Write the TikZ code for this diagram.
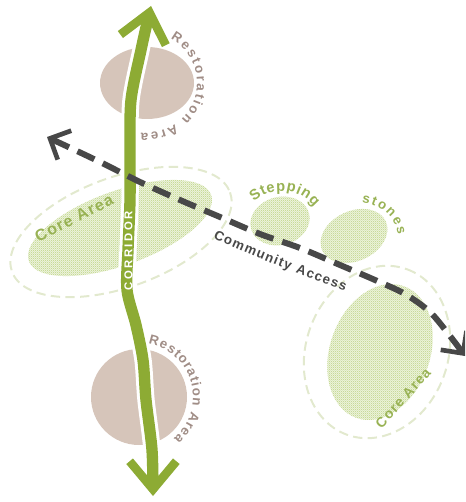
\documentclass[tikz,border=0pt]{standalone}
\usepackage{fontspec}
\setmainfont{Liberation Sans}
\usetikzlibrary{arrows.meta,patterns.meta,decorations.text}

\definecolor{corridorgreen}{RGB}{141,171,52}
\definecolor{restoretan}{RGB}{214,197,186}
\definecolor{restoretext}{RGB}{160,141,134}
\definecolor{patchgreen}{RGB}{200,219,152}
\definecolor{patchbase}{RGB}{238,244,222}
\definecolor{corelabel}{RGB}{152,178,84}
\definecolor{haloline}{RGB}{226,233,206}
\definecolor{accessgray}{RGB}{72,72,72}

\pgfdeclarepattern{
  name=finechecker,
  type=uncolored,
  bottom left={\pgfpoint{0pt}{0pt}},
  top right={\pgfpoint{1.6pt}{1.6pt}},
  tile size={\pgfpoint{1.6pt}{1.6pt}},
  code={
    \pgfpathrectangle{\pgfpointorigin}{\pgfpoint{0.8pt}{0.8pt}}
    \pgfpathrectangle{\pgfpoint{0.8pt}{0.8pt}}{\pgfpoint{0.8pt}{0.8pt}}
    \pgfusepath{fill}
  }
}

\tikzset{
  restoration/.style={fill=restoretan},
  habitat/.style={fill=patchbase, postaction={pattern=finechecker, pattern color=patchgreen}},
  buffer/.style={draw=haloline, line width=1.5pt, dash pattern=on 7pt off 4pt},
  corridor/.style={draw=corridorgreen, line width=8.5pt,
    {Straight Barb[length=21pt,width=35pt,line width=6.5pt]}-{Straight Barb[length=21pt,width=35pt,line width=6.5pt]}},
  access/.style={draw=accessgray, line width=4.5pt, dash pattern=on 14pt off 7pt,
    {Straight Barb[length=12pt,width=24pt,line width=3.5pt]}-{Straight Barb[length=12pt,width=24pt,line width=3.5pt]}},
  arclabel/.style={decorate, decoration={text along path, text align={fit to path}, text={#1}}},
  corelabeltext/.style={text=corelabel, font=\bfseries\fontsize{12}{14}\selectfont\addfontfeature{LetterSpace=8}, inner sep=0pt}
}

\begin{document}
\begin{tikzpicture}[x=0.75pt, y=-0.75pt]
  \useasboundingbox (0,0) rectangle (465,502);
  \clip (0,0) rectangle (465,502);

  % restoration areas
  \fill[restoration] (147,83) ellipse (47 and 36);
  \fill[restoration] (139,397) circle (48);

  % core areas and stepping stones
  \fill[habitat, rotate around={20:(120,228)}] (120,228) ellipse (97 and 37);
  \draw[buffer, rotate around={20:(121,232)}] (121,232) ellipse (116 and 55);
  \fill[habitat, rotate around={15:(280,221)}] (280,221) ellipse (30 and 24);
  \fill[habitat, rotate around={25:(354,236)}] (354,236) ellipse (35 and 25);
  \fill[habitat, rotate around={70:(380,352)}] (380,352) ellipse (70 and 50);
  \draw[buffer, rotate around={70:(377,352)}] (377,352) ellipse (88 and 71);

  % corridor
  \draw[white, line width=13pt, shorten <=8pt, shorten >=8pt] plot[smooth] coordinates
    {(151,6) (141,50) (131,100) (130,150) (130,200) (128,250) (127,290) (136,325) (143,360) (146,400) (152,450) (153,496)};
  \draw[corridor] plot[smooth] coordinates
    {(151,6) (141,50) (131,100) (130,150) (130,200) (128,250) (127,290) (136,325) (143,360) (146,400) (152,450) (153,496)};
  \node[text=white, font=\bfseries\fontsize{8.5}{10}\selectfont\addfontfeature{LetterSpace=22}, rotate=90, inner sep=0pt] (corridortext) at (128.5,251) {CORRIDOR};

  % community access
  \draw[access] plot[smooth] coordinates
    {(47,137) (100,162) (140,182) (180,200) (220,217) (260,234) (300,248) (340,265) (375,280) (405,294) (430,312) (450,336) (465,356)};

  % labels
  \path[arclabel={|\bfseries\fontsize{10}{12}\selectfont\color{restoretext}|Restoration Area}]
    (147,83) ++(-62:50) arc[start angle=-62, end angle=97, radius=50];
  \path[arclabel={|\bfseries\fontsize{10}{12}\selectfont\color{restoretext}|Restoration Area}]
    (139,397) ++(-80:54) arc[start angle=-80, end angle=50, radius=54];
  \path[arclabel={|\bfseries\fontsize{11}{13}\selectfont\color{corelabel}|Stepping}]
    (282,232) ++(-133:41) arc[start angle=-133, end angle=-38, radius=41];
  \path[arclabel={|\bfseries\fontsize{10}{12}\selectfont\color{corelabel}|stones}]
    (356,238) ++(-82:42 and 36) arc[start angle=-82, end angle=-5, x radius=42, y radius=36];
  \path[arclabel={|\bfseries\fontsize{10}{12}\selectfont\color{accessgray}|Community Access}]
    (213,238) .. controls (255,257) and (300,275) .. (345,291);

  \node[corelabeltext, rotate=27] (coreleft) at (74,218) {Core Area};
  \node[corelabeltext, rotate=48, font=\bfseries\fontsize{10.5}{12}\selectfont\addfontfeature{LetterSpace=8}] (coreright) at (403,398) {Core Area};
\end{tikzpicture}
\end{document}
